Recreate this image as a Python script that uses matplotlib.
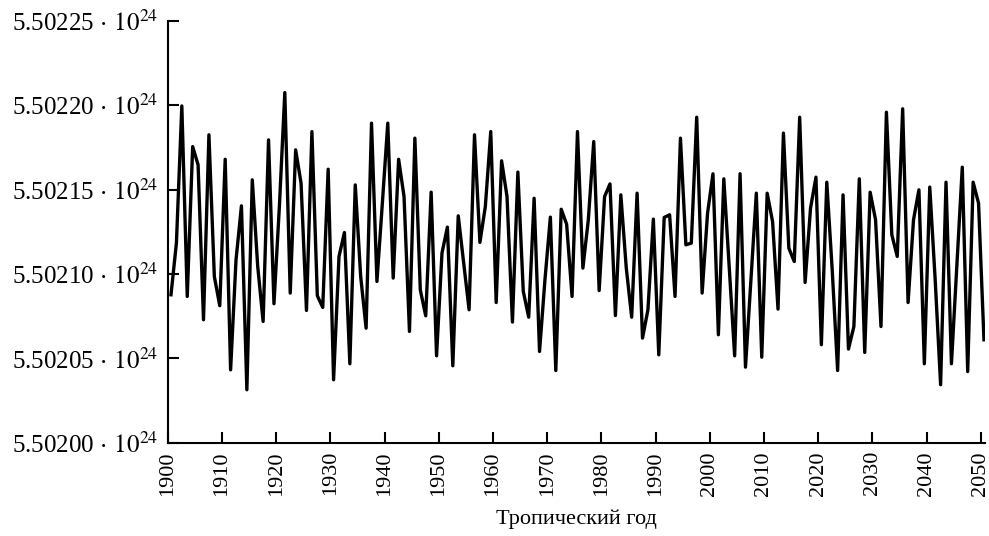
import numpy as np
import matplotlib.pyplot as plt
from matplotlib.ticker import FixedLocator, FuncFormatter

plt.rcParams['font.family'] = ['Liberation Serif', 'DejaVu Serif']
plt.rcParams['mathtext.fontset'] = 'stix'

base = 5.50200e24
unit = 1e19
years = np.arange(1900, 2051)

offsets_1900 = [8.77, 11.83, 19.96, 8.67, 17.55, 16.47, 7.29, 18.25, 9.85, 8.12,
                16.8, 4.32, 10.84, 14.04, 3.14, 15.58, 10.45, 7.19, 17.95, 8.24,
                14.0, 20.75, 8.87, 17.36, 15.38, 7.84, 18.44, 8.71, 8.02, 16.21,
                3.73, 11.04, 12.46, 4.68, 15.28, 9.85, 6.79, 18.94, 9.56, 14.2,
                18.94, 9.76, 16.8, 14.59, 6.6, 18.05, 9.06, 7.52, 14.85, 5.15]
offsets_1950 = [11.24, 12.78, 4.56, 13.45, 10.65, 7.88, 18.25, 11.87, 14.0, 18.44,
                8.31, 16.71, 14.59, 7.15, 16.04, 8.97, 7.44, 14.49, 5.41, 9.66,
                13.37, 4.28, 13.84, 12.95, 8.67, 18.44, 10.35, 13.21, 17.85, 9.02,
                14.59, 15.34, 7.54, 14.69, 10.37, 7.44, 14.79, 6.2, 7.88, 13.25,
                5.21, 13.35, 13.51, 8.67, 18.05, 11.73, 11.83, 19.29, 8.87, 13.6]
offsets_2000 = [15.94, 6.4, 15.64, 10.4, 5.15, 15.94, 4.48, 9.66, 14.79, 5.07,
                14.79, 13.1, 7.92, 18.35, 11.53, 10.74, 19.29, 9.5, 13.9, 15.74,
                5.81, 15.44, 10.25, 4.28, 14.69, 5.55, 6.89, 15.64, 5.35, 14.85,
                13.21, 6.89, 19.59, 12.32, 11.04, 19.79, 8.31, 13.21, 14.99, 4.68,
                15.15, 9.66, 3.44, 15.44, 4.68, 10.54, 16.33, 4.22, 15.44, 14.2,
                6.1]

offsets = np.array(offsets_1900 + offsets_1950 + offsets_2000)
values = base + offsets * unit

ytick_labels = ['5.50200', '5.50205', '5.50210', '5.50215', '5.50220', '5.50225']
yticks = [float(s) * 1e24 for s in ytick_labels]
xticks = np.arange(1900, 2051, 10)

fig = plt.figure(figsize=(9.89, 5.36), dpi=100)
ax = fig.add_axes([0.1696, 0.174, 0.8264, 0.787])

# points sit about half a year past the tick marks
ax.plot(years + 0.6, values, color='black', linewidth=2.4)

ax.set_xlim(1900, 2050.8)
ax.set_ylim(yticks[0], yticks[-1])

ax.xaxis.set_major_locator(FixedLocator(xticks))
ax.yaxis.set_major_locator(FixedLocator(yticks))
ax.yaxis.set_major_formatter(FuncFormatter(
    lambda v, pos: ytick_labels[pos] + r'$\,\cdot\,10^{24}$'))

for s in ['top', 'right']:
    ax.spines[s].set_visible(False)
for s in ['left', 'bottom']:
    ax.spines[s].set_linewidth(1.5)

ax.tick_params(axis='both', direction='in', length=8, width=1.5)
ax.tick_params(axis='x', labelrotation=90, pad=6, labelsize=16)
ax.tick_params(axis='y', pad=7, labelsize=18)

ax.set_xlabel('Тропический год', fontsize=16, labelpad=10)

plt.savefig('out.png', dpi=100)
plt.close()
